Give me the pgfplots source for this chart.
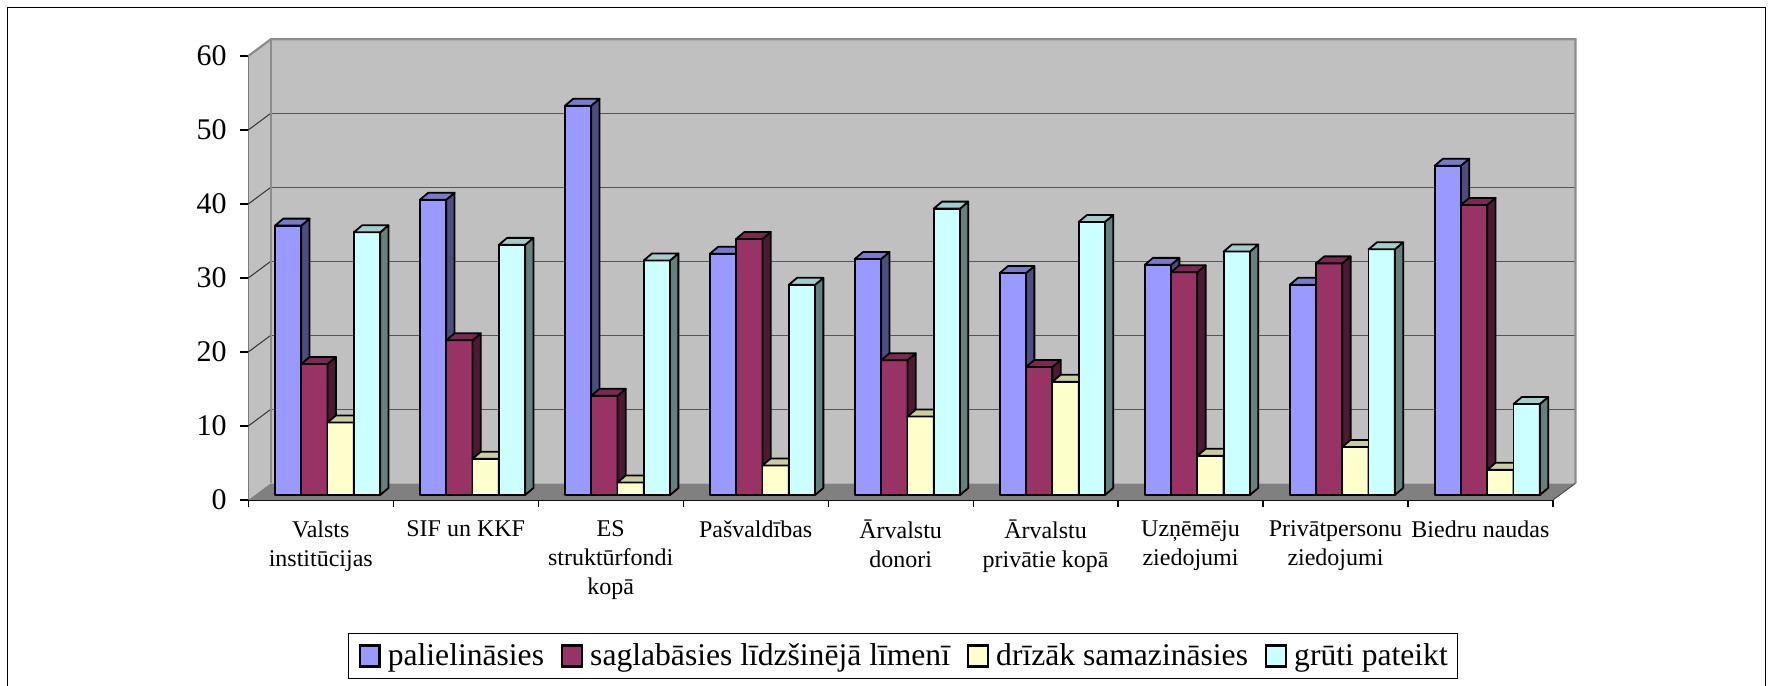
\documentclass[border=0pt]{standalone}
\usepackage{fontspec}
\setmainfont{Liberation Serif}
\newfontfamily\lserif{Liberation Serif}
\usepackage{pgfplots}
\usepackage{pgfplotstable}
\pgfplotsset{compat=1.18}

\definecolor{cA}{HTML}{9999FF}\definecolor{cAt}{HTML}{7A7ACC}\definecolor{cAs}{HTML}{4D4D80}
\definecolor{cB}{HTML}{993366}\definecolor{cBt}{HTML}{7A2952}\definecolor{cBs}{HTML}{4D1A33}
\definecolor{cC}{HTML}{FFFFCC}\definecolor{cCt}{HTML}{CCCCA3}\definecolor{cCs}{HTML}{808066}
\definecolor{cD}{HTML}{CCFFFF}\definecolor{cDt}{HTML}{A3CCCC}\definecolor{cDs}{HTML}{668080}
\definecolor{wallc}{HTML}{C0C0C0}
\definecolor{floorc}{HTML}{808080}
\definecolor{gridc}{HTML}{555555}
\definecolor{edgec}{HTML}{8C8C8C}

\pgfdeclareplotmark{nothing}{}
\def\BXL{-3.175pt}
\def\BXR{9.975pt}
\def\BSY{2.5pt}
\def\DDX{4.15pt}
\def\DDY{3.5pt}
\def\SHX{11.25pt}
\def\SHY{8.35pt}
\newcommand\legfont{\lserif\fontsize{15.8}{18.5}\selectfont}

\pgfplotsset{
  bar3d/.style n args={4}{
    only marks, mark=nothing, scatter,
    visualization depends on={\thisrow{#4} \as \yval},
    scatter/@pre marker code/.code={%
      \pgfmathsetmacro\hh{\yval*3.7}%
      \filldraw[fill=#1, draw=black, line width=0.9pt, line join=round]
        (\BXL,\BSY-\hh pt) rectangle (\BXR,\BSY);
      \filldraw[fill=#3, draw=black, line width=0.9pt, line join=round]
        (\BXR,\BSY-\hh pt) -- (\BXR+\DDX,\BSY-\hh pt+\DDY) -- (\BXR+\DDX,\BSY+\DDY) -- (\BXR,\BSY) -- cycle;
      \filldraw[fill=#2, draw=black, line width=0.9pt, line join=round]
        (\BXL,\BSY) -- (\BXR,\BSY) -- (\BXR+\DDX,\BSY+\DDY) -- (\BXL+\DDX,\BSY+\DDY) -- cycle;
    },
    scatter/@post marker code/.code={},
    legend image code/.code={\filldraw[fill=#1, draw=black, line width=1.2pt] (0.6pt,-5.25pt) rectangle (10.5pt,5.25pt);},
  },
}

\pgfplotstableread{
idx a b c d
0 36.4 17.7 9.8 35.5
1 39.9 20.9 4.9 33.8
2 52.6 13.4 1.7 31.7
3 32.6 34.6 4.0 28.4
4 31.9 18.2 10.6 38.7
5 30.0 17.3 15.3 36.9
6 31.1 30.1 5.3 32.9
7 28.4 31.3 6.5 33.2
8 44.5 39.2 3.4 12.3
}\datatable

\begin{document}
\begin{tikzpicture}
\useasboundingbox (-124.15pt,-92.5pt) rectangle (761.35pt,250pt);
\begin{axis}[
  at={(0pt,0pt)}, anchor=south west,
  x=72.48pt, y=3.7pt,
  xmin=0, xmax=9, ymin=0, ymax=60,
  clip=false,
  axis lines*=left,
  axis line style={-, black, line width=0.7pt},
  ytick={0,10,...,60},
  xtick={0.5,1.5,...,8.5},
  xticklabels={Valsts\\institūcijas, SIF un KKF, ES\\struktūrfondi\\kopā, Pašvaldības, Ārvalstu\\donori, Ārvalstu\\privātie kopā, Uzņēmēju\\ziedojumi, Privātpersonu\\ziedojumi, Biedru naudas},
  minor xtick={0,1,...,9},
  tick align=outside,
  major tick length=4pt, minor tick length=3.5pt,
  major x tick style={draw=none},
  tick style={black, line width=0.6pt},
  /pgf/number format/assume math mode=true,
  yticklabel style={font=\lserif\fontsize{15}{18}\selectfont, inner sep=0pt, anchor=east, xshift=-6.65pt},
  xticklabel style={font=\lserif\fontsize{12}{14.5}\selectfont, align=center, anchor=north, inner sep=0pt, yshift=-6pt},
  legend style={at={(0.502,-0.351)}, anchor=center, draw=black, line width=0.6pt, fill=white,
    legend columns=-1, font=\legfont,
    inner xsep=5pt, inner ysep=2.5pt,
    /tikz/every odd column/.append style={column sep=3.5pt},
    /tikz/every even column/.append style={column sep=8.5pt},
    nodes={inner xsep=0pt, inner ysep=2.5pt, font=\legfont}},
]
% walls
\fill[wallc] (axis cs:0,0) -- (axis cs:0,60) -- ([shift={(\SHX,\SHY)}]axis cs:0,60) -- ([shift={(\SHX,\SHY)}]axis cs:0,0) -- cycle;
\fill[wallc] ([shift={(\SHX,\SHY)}]axis cs:0,0) rectangle ([shift={(\SHX,\SHY)}]axis cs:9,60);
\pgfplotsinvokeforeach{10,20,30,40,50}{
  \draw[gridc, line width=0.7pt] ([shift={(\SHX,\SHY)}]axis cs:0,#1) -- ([shift={(\SHX,\SHY)}]axis cs:9,#1);
  \draw[black!80, line width=0.5pt] (axis cs:0,#1) -- ([shift={(\SHX,\SHY)}]axis cs:0,#1);
}
\draw[edgec, line width=1.1pt] (axis cs:0,60) -- ([shift={(\SHX,\SHY)}]axis cs:0,60) -- ([shift={(\SHX,\SHY)}]axis cs:9,60) -- ([shift={(\SHX,\SHY)}]axis cs:9,0);
\draw[edgec, line width=1.1pt] ([shift={(\SHX,\SHY)}]axis cs:0,0) -- ([shift={(\SHX,\SHY)}]axis cs:0,60);
% floor
\fill[floorc] (axis cs:0,0) -- (axis cs:9,0) -- ([shift={(\SHX,\SHY)}]axis cs:9,0) -- ([shift={(\SHX,\SHY)}]axis cs:0,0) -- cycle;
\draw[black!70, line width=0.5pt] (axis cs:9,0) -- ([shift={(\SHX,\SHY)}]axis cs:9,0);

\addplot[bar3d={cA}{cAt}{cAs}{a}] table[x expr=\thisrow{idx}+0.5-0.2721, y=a]{\datatable};
\addplot[bar3d={cB}{cBt}{cBs}{b}] table[x expr=\thisrow{idx}+0.5-0.0907, y=b]{\datatable};
\addplot[bar3d={cC}{cCt}{cCs}{c}] table[x expr=\thisrow{idx}+0.5+0.0907, y=c]{\datatable};
\addplot[bar3d={cD}{cDt}{cDs}{d}] table[x expr=\thisrow{idx}+0.5+0.2721, y=d]{\datatable};
\legend{palielināsies, saglabāsies līdzšinējā līmenī, drīzāk samazināsies, grūti pateikt}
\end{axis}
\draw[black, line width=0.5pt] (-120.15pt,-100pt) -- (-120.15pt,246pt) -- (758.35pt,246pt) -- (758.35pt,-100pt);
\end{tikzpicture}
\end{document}
